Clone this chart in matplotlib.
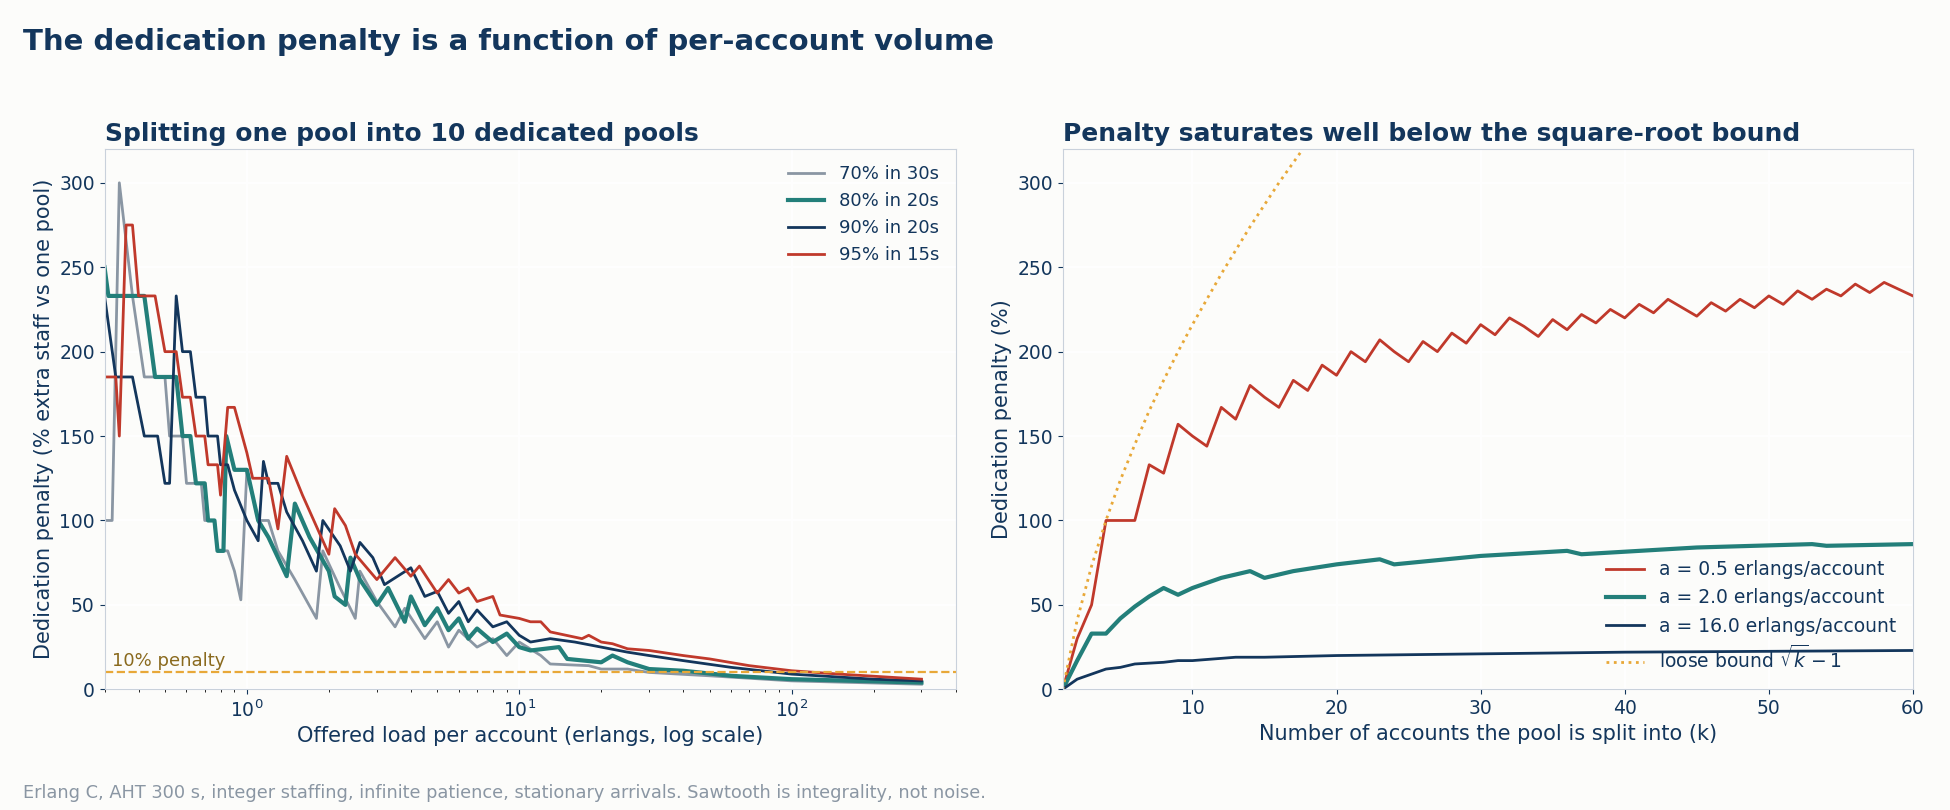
import matplotlib.pyplot as plt

NAVY = "#13365c"
TEAL = "#237f7a"
RED = "#c0392b"
GRAY = "#8a96a3"
ORANGE = "#e8a838"
BG = "#fcfcfa"

# Left panel: offered load per account vs penalty, one list per service level
load_70 = [0.3, 0.32, 0.34, 0.38, 0.42, 0.5, 0.52, 0.58, 0.6, 0.68, 0.7, 0.76, 0.78, 0.85, 0.9, 0.95, 1.0, 1.1, 1.2, 1.3, 1.5, 1.8, 1.9, 2.2, 2.5, 2.6, 3.0, 3.5, 3.8, 4.5, 5.0, 5.5, 6.0, 7.0, 8.0, 9.0, 10, 12, 13, 18, 20, 25, 30, 50, 100, 300]
pen_70 = [100, 100, 300, 233, 185, 185, 150, 150, 122, 122, 100, 100, 82, 82, 70, 53, 130, 100, 100, 82, 65, 42, 82, 60, 42, 70, 52, 37, 48, 30, 40, 25, 35, 25, 30, 20, 28, 20, 15, 14, 12, 12, 10, 8, 5, 3]

load_80 = [0.3, 0.31, 0.42, 0.46, 0.55, 0.58, 0.62, 0.65, 0.7, 0.72, 0.76, 0.78, 0.82, 0.84, 0.9, 1.0, 1.1, 1.2, 1.4, 1.5, 1.7, 2.0, 2.1, 2.3, 2.4, 2.6, 3.0, 3.3, 3.8, 4.0, 4.5, 5.0, 5.5, 6.0, 6.5, 7.0, 8.0, 9.0, 10, 11, 14, 15, 20, 22, 25, 30, 40, 60, 100, 300]
pen_80 = [250, 233, 233, 185, 185, 150, 150, 122, 122, 100, 100, 82, 82, 150, 130, 130, 100, 90, 67, 110, 90, 70, 55, 50, 78, 65, 50, 60, 40, 55, 38, 48, 35, 42, 30, 36, 28, 33, 25, 23, 25, 18, 16, 20, 16, 12, 11, 8, 6, 4]

load_90 = [0.3, 0.33, 0.38, 0.42, 0.47, 0.5, 0.52, 0.55, 0.58, 0.62, 0.65, 0.7, 0.72, 0.78, 0.8, 0.85, 0.9, 1.0, 1.1, 1.15, 1.2, 1.3, 1.4, 1.6, 1.8, 1.9, 2.2, 2.4, 2.6, 2.9, 3.2, 4.0, 4.5, 5.0, 5.5, 6.0, 6.5, 7.0, 8.0, 9.0, 10, 11, 13, 16, 20, 25, 30, 40, 60, 100, 200, 300]
pen_90 = [233, 185, 185, 150, 150, 122, 122, 233, 200, 200, 173, 173, 150, 150, 133, 133, 118, 100, 88, 135, 122, 122, 105, 88, 70, 100, 85, 70, 87, 78, 62, 72, 55, 58, 45, 52, 40, 47, 37, 40, 32, 28, 30, 28, 25, 22, 20, 17, 13, 9, 6, 5]

load_95 = [0.3, 0.33, 0.34, 0.36, 0.38, 0.40, 0.46, 0.5, 0.55, 0.58, 0.62, 0.65, 0.7, 0.72, 0.78, 0.8, 0.85, 0.9, 1.0, 1.05, 1.2, 1.3, 1.4, 1.6, 2.0, 2.1, 2.3, 2.5, 3.0, 3.5, 4.0, 4.3, 5.0, 5.5, 6.0, 6.5, 7.0, 8.0, 8.5, 10, 11, 12, 13, 17, 18, 20, 22, 25, 30, 40, 50, 70, 100, 150, 300]
pen_95 = [185, 185, 150, 275, 275, 233, 233, 200, 200, 173, 173, 150, 150, 133, 133, 115, 167, 167, 140, 125, 125, 95, 138, 115, 80, 107, 97, 80, 65, 78, 67, 73, 57, 65, 57, 60, 52, 55, 44, 42, 40, 40, 34, 30, 32, 28, 27, 24, 23, 20, 18, 14, 11, 9, 6]

# Right panel: number of accounts k vs penalty
k_red = list(range(1, 61))
pen_a05 = [0, 30, 50, 100, 100, 100, 133, 128, 157, 150, 144, 167, 160, 180, 173, 167, 183, 177, 192, 186,
           200, 194, 207, 200, 194, 206, 200, 211, 205, 216, 210, 220, 215, 209, 219, 213, 222, 217, 225, 220,
           228, 223, 231, 226, 221, 229, 224, 231, 226, 233, 228, 236, 231, 237, 233, 240, 235, 241, 237, 233]
k_teal = [1, 2, 3, 4, 5, 6, 7, 8, 9, 10, 12, 14, 15, 17, 20, 23, 24, 30, 36, 37, 45, 53, 54, 60]
pen_a2 = [0, 17, 33, 33, 42, 49, 55, 60, 56, 60, 66, 70, 66, 70, 74, 77, 74, 79, 82, 80, 84, 86, 85, 86]
k_navy = [1, 2, 4, 5, 6, 8, 9, 10, 13, 15, 20, 30, 40, 60]
pen_a16 = [0, 6, 12, 13, 15, 16, 17, 17, 19, 19, 20, 21, 22, 23]
k_bound = [1, 2, 3, 4, 5, 6, 7, 8, 9, 10, 12, 14, 16, 18]
pen_bound = [0, 41, 73, 100, 124, 145, 165, 183, 200, 216, 246, 274, 300, 324]

plt.rcParams['font.family'] = ['DejaVu Sans']

fig = plt.figure(figsize=(19.5, 8.1), dpi=100, facecolor=BG)
ax1 = fig.add_axes([0.0536, 0.149, 0.4364, 0.667])
ax2 = fig.add_axes([0.545, 0.149, 0.436, 0.667])

for ax in (ax1, ax2):
    ax.set_facecolor(BG)
    ax.grid(True, color="white", linewidth=1.2)
    for s in ax.spines.values():
        s.set_color("#c9d1db")
    ax.tick_params(colors=NAVY, labelsize=13.5)
    ax.set_ylim(0, 320)

ax1.plot(load_70, pen_70, color=GRAY, lw=2, label="70% in 30s")
ax1.plot(load_80, pen_80, color=TEAL, lw=3, label="80% in 20s")
ax1.plot(load_90, pen_90, color=NAVY, lw=2, label="90% in 20s")
ax1.plot(load_95, pen_95, color=RED, lw=2, label="95% in 15s")
ax1.axhline(10, color=ORANGE, ls="--", lw=1.6)
ax1.text(0.32, 14, "10% penalty", color="#8a6a1e", fontsize=13)
ax1.set_xscale("log")
ax1.set_xlim(0.3, 400)
ax1.set_xlabel("Offered load per account (erlangs, log scale)", color=NAVY, fontsize=15)
ax1.set_ylabel("Dedication penalty (% extra staff vs one pool)", color=NAVY, fontsize=15)
ax1.set_title("Splitting one pool into 10 dedicated pools", loc="left", color=NAVY,
              fontsize=18, fontweight="bold")
leg = ax1.legend(loc="upper right", frameon=False, fontsize=13)
for t in leg.get_texts():
    t.set_color(NAVY)

ax2.plot(k_red, pen_a05, color=RED, lw=2, label="a = 0.5 erlangs/account")
ax2.plot(k_teal, pen_a2, color=TEAL, lw=3, label="a = 2.0 erlangs/account")
ax2.plot(k_navy, pen_a16, color=NAVY, lw=2, label="a = 16.0 erlangs/account")
ax2.plot(k_bound, pen_bound, color=ORANGE, ls=":", lw=2, label=r"loose bound $\sqrt{k}-1$")
ax2.set_xlim(1, 60)
ax2.set_xlabel("Number of accounts the pool is split into (k)", color=NAVY, fontsize=15)
ax2.set_ylabel("Dedication penalty (%)", color=NAVY, fontsize=15)
ax2.set_title("Penalty saturates well below the square-root bound", loc="left", color=NAVY,
              fontsize=18, fontweight="bold")
leg2 = ax2.legend(loc="lower right", frameon=False, fontsize=13.5)
for t in leg2.get_texts():
    t.set_color(NAVY)

fig.text(0.012, 0.965, "The dedication penalty is a function of per-account volume",
         color=NAVY, fontsize=21, fontweight="bold", va="top")
fig.text(0.012, 0.01, "Erlang C, AHT 300 s, integer staffing, infinite patience, stationary arrivals. "
         "Sawtooth is integrality, not noise.", color=GRAY, fontsize=12.8, va="bottom")

fig.savefig("out.png", dpi=100, facecolor=BG)
